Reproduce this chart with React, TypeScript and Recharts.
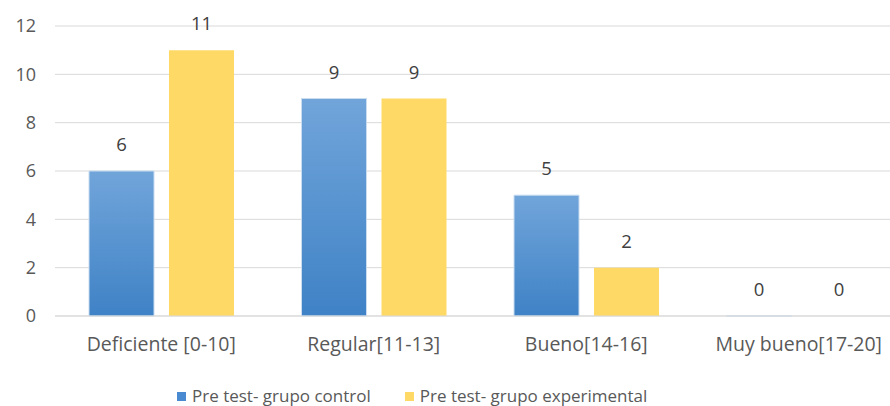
import React from 'react';
import { BarChart, Bar, XAxis, YAxis, CartesianGrid, LabelList } from 'recharts';

const categories = ['Deficiente [0-10]', 'Regular[11-13]', 'Bueno[14-16]', 'Muy bueno[17-20]'];
const controlValues = [6, 9, 5, 0];
const experimentalValues = [11, 9, 2, 0];
const yTicks = [0, 2, 4, 6, 8, 10, 12];

const seriesNames = ['Pre test- grupo control', 'Pre test- grupo experimental'];

const font = '"Open Sans", "Noto Sans", sans-serif';
const textColor = '#595959';

// zero-height bars get no label otherwise
const zeroSize = (value: any) => (Number(value) === 0 ? 0.01 : 0);

const App: React.FC = () => {
  const data = categories.map((name, i) => ({
    name,
    control: controlValues[i],
    experimental: experimentalValues[i],
    controlLabel: String(controlValues[i]),
    experimentalLabel: String(experimentalValues[i]),
  }));

  return (
    <div
      style={{
        position: 'fixed',
        left: 0,
        top: 0,
        width: 890,
        height: 406,
        overflow: 'hidden',
        background: '#fff',
        fontFamily: font,
      }}
    >
      <BarChart
        width={905}
        height={366}
        data={data}
        margin={{ top: 26, right: 0, left: 0, bottom: 0 }}
        barSize={65}
        barGap={15}
      >
        <defs>
          <linearGradient id="blueGrad" x1="0" y1="0" x2="0" y2="1">
            <stop offset="0%" stopColor="#71a5da" />
            <stop offset="100%" stopColor="#3f82c6" />
          </linearGradient>
        </defs>
        <CartesianGrid stroke="#d9d9d9" vertical={false} />
        <XAxis
          dataKey="name"
          axisLine={{ stroke: '#d9d9d9' }}
          tickLine={false}
          tickSize={0}
          tickMargin={21}
          height={50}
          interval={0}
          tick={{ fill: textColor, fontSize: 19.5, fontFamily: font }}
        />
        <YAxis
          type="number"
          domain={[0, 12]}
          ticks={yTicks}
          axisLine={false}
          tickLine={false}
          tickSize={0}
          tickMargin={19}
          width={55}
          tick={{ fill: textColor, fontSize: 18, fontFamily: font }}
        />
        <Bar
          dataKey="control"
          fill="url(#blueGrad)"
          stroke="#c9dcf0"
          strokeWidth={1}
          minPointSize={zeroSize}
          isAnimationActive={false}
        >
          <LabelList dataKey="controlLabel" position="top" offset={20} fill="#404040" fontSize={18.5} fontFamily={font} />
        </Bar>
        <Bar dataKey="experimental" fill="#ffd966" minPointSize={zeroSize} isAnimationActive={false}>
          <LabelList dataKey="experimentalLabel" position="top" offset={20} fill="#404040" fontSize={18.5} fontFamily={font} />
        </Bar>
      </BarChart>
      <div
        style={{
          position: 'absolute',
          top: 387,
          left: 177,
          display: 'flex',
          alignItems: 'center',
          fontSize: 17,
          lineHeight: '18px',
          color: textColor,
          whiteSpace: 'nowrap',
        }}
      >
        <span style={{ width: 9, height: 9, background: '#4a8ad0', display: 'inline-block', marginRight: 6 }} />
        <span style={{ marginRight: 34 }}>{seriesNames[0]}</span>
        <span style={{ width: 9, height: 9, background: '#ffd966', display: 'inline-block', marginRight: 6 }} />
        <span>{seriesNames[1]}</span>
      </div>
    </div>
  );
};

export default App;
